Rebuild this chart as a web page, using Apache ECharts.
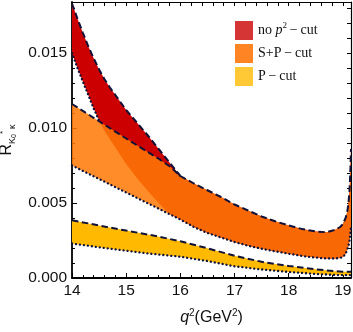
<!DOCTYPE html>
<html>
<head>
<meta charset="utf-8">
<script src="https://cdn.jsdelivr.net/npm/echarts@6/dist/echarts.min.js"></script>
<style>html,body{margin:0;padding:0;background:#fff}#c{width:353px;height:332px}</style>
</head>
<body>
<div id="c"></div>
<script>
// q^2 grid for the red / orange bands
const xsRO = [14, 14.1, 14.2, 14.3, 14.4, 14.5, 14.6, 14.7, 14.8, 15, 15.2, 15.4, 15.6, 15.8, 16, 16.25, 16.5, 16.75, 17, 17.25, 17.5, 17.75, 18, 18.25, 18.5, 18.7, 18.85, 18.95, 19, 19.05, 19.08, 19.1, 19.12, 19.13, 19.14, 19.15];
// S+P-cut band
const orangeUpper = [0.0116, 0.01137, 0.01114, 0.01091, 0.01068, 0.01045, 0.01022, 0.00999, 0.00976, 0.0093, 0.00885, 0.0084, 0.00795, 0.00745, 0.0068, 0.0063, 0.00585, 0.0054, 0.0049, 0.0045, 0.0041, 0.00378, 0.0035, 0.00326, 0.0031, 0.00305, 0.0032, 0.0034, 0.0036, 0.0040, 0.0044, 0.0049, 0.0057, 0.0064, 0.0074, 0.0086];
const orangeLower = [0.0075, 0.00732, 0.00714, 0.00696, 0.00678, 0.0066, 0.00642, 0.00624, 0.00606, 0.0057, 0.00534, 0.00498, 0.00462, 0.00426, 0.0039, 0.0034, 0.0030, 0.0027, 0.0024, 0.00215, 0.00195, 0.00178, 0.00162, 0.00147, 0.00136, 0.0013, 0.0013, 0.00134, 0.0014, 0.0016, 0.0019, 0.0021, 0.0024, 0.0027, 0.0030, 0.0034];
// no p^2-cut band
const redUpper = [0.0183, 0.0173, 0.01635, 0.01545, 0.01465, 0.0139, 0.01325, 0.0127, 0.0122, 0.0112, 0.01035, 0.0095, 0.0086, 0.0077, 0.0068, 0.0063, 0.00585, 0.0054, 0.0049, 0.0045, 0.0041, 0.00378, 0.0035, 0.00326, 0.0031, 0.00305, 0.0032, 0.0034, 0.0036, 0.0040, 0.0044, 0.0049, 0.0057, 0.0064, 0.0074, 0.0086];
const redLower = [0.0150, 0.0140, 0.0131, 0.0122, 0.0113, 0.0105, 0.0098, 0.00925, 0.0087, 0.0076, 0.00665, 0.0058, 0.0050, 0.00426, 0.0039, 0.0034, 0.0030, 0.0027, 0.0024, 0.00215, 0.00195, 0.00178, 0.00162, 0.00147, 0.00136, 0.0013, 0.0013, 0.00134, 0.0014, 0.0016, 0.0019, 0.0021, 0.0024, 0.0027, 0.0030, 0.0034];
const redLowerVisibleCount = 6; // dotted edge shown until it enters the orange band
const redUpperVisibleCount = 15;
// P-cut band
const xsY = [14, 14.5, 15, 15.5, 16, 16.5, 17, 17.5, 18, 18.5, 18.85, 19, 19.15];
const yellowUpper = [0.00385, 0.0035, 0.00316, 0.00283, 0.00245, 0.00198, 0.00148, 0.00108, 0.0008, 0.00058, 0.00045, 0.00042, 0.00042];
const yellowLower = [0.0023, 0.00205, 0.00182, 0.0016, 0.00142, 0.00113, 0.00078, 0.00057, 0.0004, 0.00027, 0.0002, 0.00019, 0.00019];

const xTickLabels = [14, 15, 16, 17, 18, 19];
const yTickLabels = [0.000, 0.005, 0.010, 0.015];
const names = ['no p²-cut', 'S+P-cut', 'P-cut'];

const EDGE = '#121238';
const chart = echarts.init(document.getElementById('c'), null, {renderer: 'canvas'});

function band(name, xs, lo, up, fill, z) {
  return {
    type: 'custom', name: name, z: z, silent: true,
    coordinateSystem: 'cartesian2d', xAxisIndex: 0, yAxisIndex: 0,
    itemStyle: {color: fill},
    data: xs.map((x, i) => [x, lo[i], up[i]]),
    encode: {x: 0, y: [1, 2]},
    renderItem: function (params, api) {
      if (params.dataIndex !== 0) return null;
      const pts = [];
      for (let i = 0; i < xs.length; i++) pts.push(api.coord([xs[i], up[i]]));
      for (let i = xs.length - 1; i >= 0; i--) pts.push(api.coord([xs[i], lo[i]]));
      return {type: 'polygon', shape: {points: pts}, style: {fill: fill, stroke: null}};
    }
  };
}
function edge(xs, ys, count, kind) {
  const data = [];
  for (let i = 0; i < count; i++) data.push([xs[i], ys[i]]);
  const dashed = kind === 'dashed';
  return {
    type: 'line', data: data, showSymbol: false, symbol: 'none', silent: true, z: 6,
    xAxisIndex: 0, yAxisIndex: 0,
    lineStyle: dashed
      ? {color: EDGE, width: 2, type: [6.5, 3.5], cap: 'butt'}
      : {color: EDGE, width: 2.3, type: [0.1, 3.9], cap: 'round'}
  };
}

const labelFont = 'Liberation Sans';
const xMin = 14, xMax = 19.15, yMin = 0, yMax = 0.0184;
function axisBase(extra) {
  return Object.assign({
    type: 'value', splitLine: {show: false},
    axisLabel: {show: false}, axisTick: {show: false}, axisLine: {show: false}
  }, extra);
}

const option = {
  animation: false,
  grid: {left: 72, right: 2, top: 2, bottom: 54, outerBoundsMode: 'none'},
  legend: {
    orient: 'vertical', left: 235, top: 21, padding: 0,
    itemWidth: 18, itemHeight: 19, itemGap: 4, icon: 'rect', selectedMode: false,
    data: [
      {name: names[0], itemStyle: {color: '#D63535'}},
      {name: names[1], itemStyle: {color: '#FF8424'}},
      {name: names[2], itemStyle: {color: '#FFC834'}}
    ],
    formatter: function (n) {
      if (n === names[0]) return 'no {i|p}{s|2}\u2009\u2212\u2009cut';
      return n.replace('-', '\u2009\u2212\u2009');
    },
    textStyle: {
      fontFamily: 'Liberation Serif', fontSize: 14, color: '#111', lineHeight: 19,
      rich: {
        i: {fontFamily: 'Liberation Serif', fontStyle: 'italic', fontSize: 14, lineHeight: 19},
        s: {fontFamily: 'Liberation Serif', fontSize: 9, lineHeight: 12, verticalAlign: 'top'}
      }
    }
  },
  xAxis: [
    axisBase({
      min: xMin, max: xMax, interval: 1, position: 'bottom',
      axisLine: {show: true, onZero: false, lineStyle: {color: '#000', width: 1.8}},
      axisTick: {show: true, inside: true, length: 5, lineStyle: {color: '#000', width: 1}},
      axisLabel: {show: true, showMaxLabel: false, margin: 5, color: '#111', fontFamily: labelFont, fontSize: 15.5,
        formatter: v => (xTickLabels.indexOf(v) >= 0 ? String(v) : '')},
      name: '{i|q}{s|2}(GeV{s|2})', nameLocation: 'middle', nameGap: 30,
      nameTextStyle: {fontFamily: labelFont, fontSize: 16, color: '#111', lineHeight: 20,
        rich: {i: {fontFamily: labelFont, fontStyle: 'italic', fontSize: 16, lineHeight: 20},
               s: {fontFamily: labelFont, fontSize: 10, lineHeight: 11, verticalAlign: 'top'}}}
    }),
    axisBase({
      min: xMin, max: xMax, interval: 0.2, position: 'top',
      axisLine: {show: true, onZero: false, lineStyle: {color: '#000', width: 1.2}},
      axisTick: {show: true, inside: true, length: 4, lineStyle: {color: '#000', width: 1}}
    }),
    axisBase({
      min: xMin, max: xMax, interval: 0.2, position: 'bottom',
      axisTick: {show: true, inside: true, length: 3, lineStyle: {color: '#000', width: 1}}
    })
  ],
  yAxis: [
    axisBase({
      min: yMin, max: yMax, interval: 0.005, position: 'left',
      axisLine: {show: true, onZero: false, lineStyle: {color: '#000', width: 1.8}},
      axisTick: {show: true, inside: true, length: 5, lineStyle: {color: '#000', width: 1}},
      axisLabel: {show: true, showMaxLabel: false, margin: 5, color: '#111', fontFamily: labelFont, fontSize: 15.5,
        formatter: v => (yTickLabels.some(t => Math.abs(t - v) < 1e-9) ? v.toFixed(3) : '')},
      name: '{r|R}{k|K}{z|0}{a|*}{k|\u2009κ}', nameLocation: 'middle', nameGap: 47, nameRotate: 90,
      nameTextStyle: {fontFamily: labelFont, fontSize: 16, color: '#111', lineHeight: 22,
        rich: {r: {fontFamily: labelFont, fontSize: 16, lineHeight: 22},
               k: {fontFamily: labelFont, fontSize: 9, lineHeight: 10, verticalAlign: 'bottom'},
               z: {fontFamily: labelFont, fontSize: 7, lineHeight: 6, verticalAlign: 'bottom'},
               a: {fontFamily: labelFont, fontSize: 8, lineHeight: 14, verticalAlign: 'top', padding: [3, 0, 0, 0]}}}
    }),
    axisBase({
      min: yMin, max: yMax, interval: 0.001, position: 'right',
      axisLine: {show: true, onZero: false, lineStyle: {color: '#000', width: 1.2}},
      axisTick: {show: true, inside: true, length: 4, lineStyle: {color: '#000', width: 1}}
    }),
    axisBase({
      min: yMin, max: yMax, interval: 0.001, position: 'left',
      axisTick: {show: true, inside: true, length: 3, lineStyle: {color: '#000', width: 1}}
    })
  ],
  series: [
    band(names[0], xsRO, redLower, redUpper, '#CC0000', 2),
    band(names[1], xsRO, orangeLower, orangeUpper, 'rgba(255,122,6,0.863)', 3),
    band(names[2], xsY, yellowLower, yellowUpper, '#FFBA00', 3),
    edge(xsRO, redUpper, redUpperVisibleCount, 'dashed'),
    edge(xsRO, redLower, redLowerVisibleCount, 'dotted'),
    edge(xsRO, orangeUpper, xsRO.length, 'dashed'),
    edge(xsRO, orangeLower, xsRO.length, 'dotted'),
    edge(xsY, yellowUpper, xsY.length, 'dashed'),
    edge(xsY, yellowLower, xsY.length, 'dotted')
  ]
};
chart.setOption(option);
</script>
</body>
</html>
